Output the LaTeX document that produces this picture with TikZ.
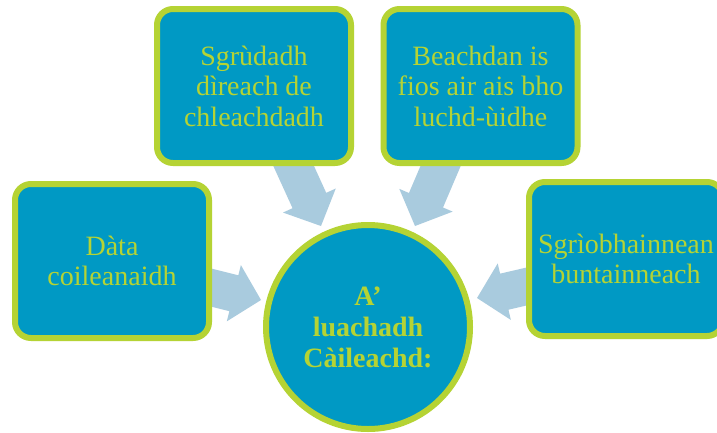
\documentclass[tikz,border=0pt]{standalone}
\usepackage{fontspec}
\setmainfont{Liberation Serif}
\usetikzlibrary{calc,backgrounds}
\definecolor{boxblue}{HTML}{0099C4}
\definecolor{limegreen}{HTML}{B5D334}
\definecolor{arrowblue}{HTML}{A9CBDE}
\tikzset{
  box/.style={draw=limegreen, line width=6pt, fill=boxblue, rounded corners=16pt,
    minimum width=194pt, minimum height=154pt, text=limegreen, align=center,
    font=\fontsize{28}{30.5}\selectfont, inner sep=0pt},
  hub/.style={circle, draw=limegreen, line width=6pt, fill=boxblue, minimum size=204pt,
    text=limegreen, align=center, font=\fontsize{28}{31}\selectfont\bfseries, inner sep=0pt},
  flow/.style={fill=arrowblue}
}
\newcommand{\blockarrow}[2]{%
  \coordinate (hm) at ($(#2)!28pt!(#1)$);
  \fill[flow] ($(#1)!18.5pt!90:(#2)$) -- ($(hm)!18.5pt!90:(#2)$) -- ($(hm)!29pt!90:(#2)$)
    -- (#2) -- ($(hm)!29pt!-90:(#2)$) -- ($(hm)!18.5pt!-90:(#2)$) -- ($(#1)!18.5pt!-90:(#2)$) -- cycle;
}
\begin{document}
\begin{tikzpicture}[x=1pt,y=-1pt]
\useasboundingbox (0,0) rectangle (717,432);
\clip (0,0) rectangle (717,432);
\node[box] (b1) at (254,86) {Sgrùdadh\\dìreach de\\chleachdadh};
\node[box] (b2) at (480.5,86) {Beachdan is\\fios air ais bho\\luchd-ùidhe};
\node[box] (b3) at (112,261) {Dàta\\coileanaidh};
\node[box] (b4) at (626,259) {Sgrìobhainnean\\buntainneach};
\node[hub] (c) at (368,327) {A’\\luachadh\\Càileachd:};
\coordinate (s1) at (290,158); \coordinate (t1) at (321,226);
\coordinate (s2) at (444,158); \coordinate (t2) at (415,226);
\coordinate (s3) at (205,286); \coordinate (t3) at (261,300);
\coordinate (s4) at (533,285); \coordinate (t4) at (477,298);
\begin{pgfonlayer}{background}
\fill[white] (0,0) rectangle (717,432);
\blockarrow{s1}{t1}
\blockarrow{s2}{t2}
\blockarrow{s3}{t3}
\blockarrow{s4}{t4}
\end{pgfonlayer}
\end{tikzpicture}
\end{document}
